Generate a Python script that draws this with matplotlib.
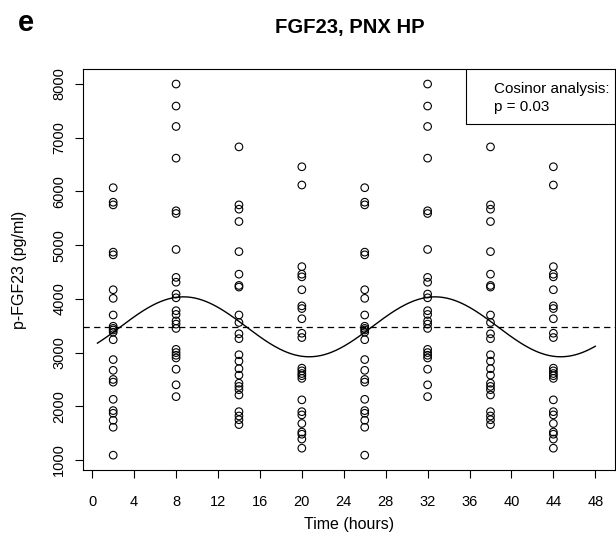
import numpy as np
import matplotlib
matplotlib.use("Agg")
import matplotlib.pyplot as plt
from matplotlib.patches import Rectangle

plt.rcParams['font.family'] = ['Liberation Sans', 'DejaVu Sans']

# sampling times (hours); the second day repeats the first (double plot)
times = [2, 8, 14, 20]
day2_offset = 24

# p-FGF23 (pg/ml) per sampling time
vals_2h = [6070, 5800, 5750, 4870, 4820, 4170, 4010, 3700, 3490, 3450, 3420, 3380,
           3240, 2870, 2670, 2500, 2450, 2130, 1920, 1870, 1740, 1610, 1090]
vals_8h = [8000, 7590, 7210, 6620, 5640, 5590, 4920, 4400, 4310, 4090, 4020, 3780,
           3710, 3590, 3530, 3450, 3060, 3000, 2950, 2900, 2690, 2400, 2180]
vals_14h = [6830, 5750, 5670, 5440, 4880, 4460, 4250, 4220, 3700, 3560, 3350, 3260,
            2960, 2840, 2700, 2580, 2430, 2370, 2310, 2210, 1900, 1820, 1750, 1660]
vals_20h = [6460, 6120, 4600, 4460, 4410, 4170, 3870, 3820, 3630, 3360, 3280, 2710,
            2660, 2610, 2570, 2520, 2120, 1900, 1840, 1680, 1520, 1480, 1390, 1220]
all_vals = [vals_2h, vals_8h, vals_14h, vals_20h]

# cosinor fit (24 h period)
mesor = 3480
amplitude = 558
acrophase = 8.7
period = 24
fit_start, fit_end = 0.5, 48

xticks = list(range(0, 49, 4))
yticks = list(range(1000, 8001, 1000))

fig = plt.figure(figsize=(6.16, 5.37), dpi=100)
ax = fig.add_axes([83 / 616, 1 - 470 / 537, (615 - 83) / 616, (470 - 69) / 537])

for t, v in zip(times, all_vals):
    for day in (0, day2_offset):
        ax.scatter([t + day] * len(v), v, s=30, facecolors='none',
                   edgecolors='black', linewidths=0.8, zorder=3)

tt = np.linspace(fit_start, fit_end, 400)
fit = mesor + amplitude * np.cos(2 * np.pi * (tt - acrophase) / period)
ax.plot(tt, fit, color='black', lw=1.0)
ax.axhline(mesor, color='black', lw=0.9, ls=(0, (5, 3.5)))

ax.set_xlim(-0.88, 49.88)
ax.set_ylim(814, 8280)
ax.set_xticks(xticks)
ax.set_yticks(yticks)
ax.tick_params(axis='both', labelsize=10.5, length=6, width=0.8, direction='out')
ax.tick_params(axis='x', pad=12)
ax.tick_params(axis='y', pad=6)
for lbl in ax.get_yticklabels():
    lbl.set_rotation(90)
    lbl.set_va('center')
for sp in ax.spines.values():
    sp.set_linewidth(0.8)

ax.set_xlabel('Time (hours)', fontsize=11.5, labelpad=6)
ax.set_ylabel('p-FGF23 (pg/ml)', fontsize=11.5, labelpad=18)

# legend box in the top right corner
ax.add_patch(Rectangle((0.72, 0.863), 0.28, 0.137, transform=ax.transAxes,
                       facecolor='white', edgecolor='black', lw=0.8, zorder=4))
ax.text(0.773, 0.950, 'Cosinor analysis:', transform=ax.transAxes,
        fontsize=11, va='center', zorder=5)
ax.text(0.773, 0.905, 'p = 0.03', transform=ax.transAxes,
        fontsize=11, va='center', zorder=5)

fig.text(350 / 616, 1 - 28 / 537, 'FGF23, PNX HP', fontsize=14.6,
         fontweight='bold', ha='center', va='center')
fig.text(26 / 616, 1 - 23 / 537, 'e', fontsize=21, fontweight='bold',
         ha='center', va='center')

fig.savefig('out.png', dpi=100)
